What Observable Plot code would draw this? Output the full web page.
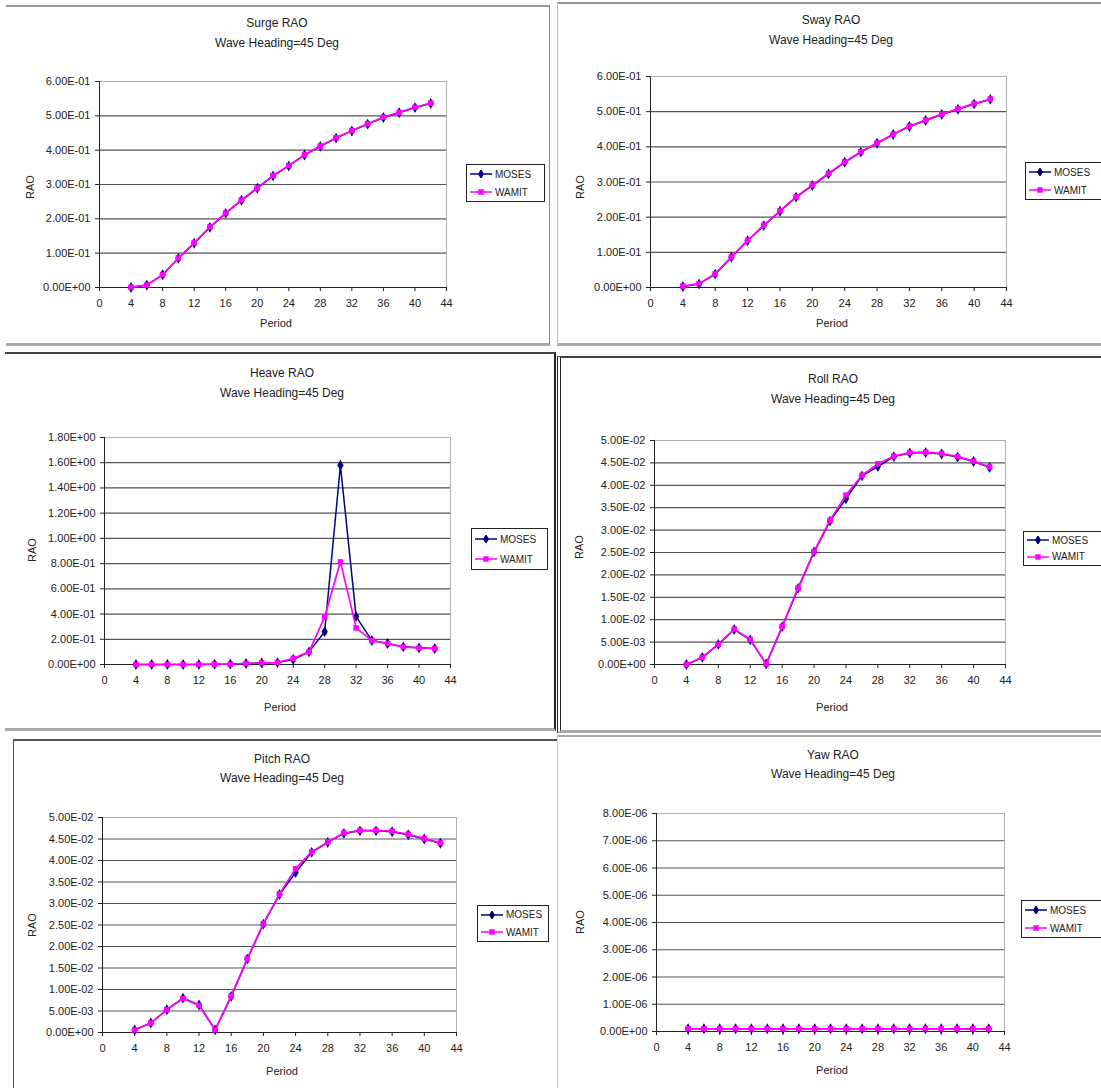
<!DOCTYPE html>
<html>
<head>
<meta charset="utf-8">
<script src="https://cdn.jsdelivr.net/npm/d3@7"></script>
<script src="https://cdn.jsdelivr.net/npm/@observablehq/plot@0.6"></script>
<style>
  html, body { margin: 0; padding: 0; background: #fff; }
  #root { position: relative; width: 1101px; height: 1088px; overflow: hidden; background: #fff;
          font-family: Arial, "Liberation Sans", sans-serif; color: #222; }
  .frame { position: absolute; box-sizing: border-box; }
  .title { position: absolute; transform: translate(-50%, -50%); font-size: 12px; white-space: nowrap; color: #222; }
  .lab { position: absolute; transform: translate(-50%, -50%); font-size: 11px; white-space: nowrap; color: #222; }
  .ylab { position: absolute; transform: translate(-50%, -50%) rotate(-90deg); font-size: 11px; white-space: nowrap; color: #222; }
  .legend { position: absolute; box-sizing: border-box; border: 1px solid #222; background: #fff; font-size: 10px; }
  .legend .row { display: flex; align-items: center; height: 50%; }
  .legend svg { display: block; margin-left: 3px; margin-right: 3px; }
</style>
</head>
<body>
<div id="root"></div>
<script>
// ---------------- data ----------------
const periods = [4, 6, 8, 10, 12, 14, 16, 18, 20, 22, 24, 26, 28, 30, 32, 34, 36, 38, 40, 42];
const xTicks = [0, 4, 8, 12, 16, 20, 24, 28, 32, 36, 40, 44];
const seriesNames = ["MOSES", "WAMIT"];

const surgeMoses = [0.000, 0.007, 0.037, 0.085, 0.129, 0.175, 0.216, 0.254, 0.289, 0.325, 0.354, 0.386, 0.411, 0.435, 0.456, 0.476, 0.495, 0.509, 0.524, 0.536];
const surgeWamit = [0.001, 0.007, 0.037, 0.086, 0.130, 0.176, 0.217, 0.255, 0.290, 0.326, 0.355, 0.387, 0.412, 0.436, 0.457, 0.477, 0.496, 0.510, 0.525, 0.537];
const surgeTicks = [0, 0.1, 0.2, 0.3, 0.4, 0.5, 0.6];

const swayMoses = [0.003, 0.010, 0.038, 0.086, 0.133, 0.176, 0.217, 0.257, 0.290, 0.323, 0.356, 0.385, 0.410, 0.435, 0.458, 0.475, 0.492, 0.507, 0.522, 0.535];
const swayWamit = [0.004, 0.011, 0.039, 0.087, 0.134, 0.177, 0.218, 0.258, 0.291, 0.324, 0.357, 0.386, 0.411, 0.436, 0.459, 0.476, 0.493, 0.508, 0.523, 0.536];
const swayTicks = [0, 0.1, 0.2, 0.3, 0.4, 0.5, 0.6];

const heaveMoses = [0, 0, 0, 0, 0, 0.002, 0.003, 0.008, 0.012, 0.015, 0.040, 0.100, 0.260, 1.580, 0.380, 0.190, 0.166, 0.140, 0.132, 0.127];
const heaveWamit = [0, 0, 0, 0, 0, 0.002, 0.003, 0.008, 0.013, 0.016, 0.048, 0.100, 0.378, 0.814, 0.290, 0.190, 0.166, 0.140, 0.132, 0.127];
const heaveTicks = [0, 0.2, 0.4, 0.6, 0.8, 1.0, 1.2, 1.4, 1.6, 1.8];

const rollMoses = [0.0000, 0.0016, 0.0045, 0.0078, 0.0055, 0.0001, 0.0084, 0.0170, 0.0251, 0.0320, 0.0370, 0.0421, 0.0442, 0.0464, 0.0472, 0.0473, 0.0470, 0.0463, 0.0453, 0.0440];
const rollWamit = [0.0000, 0.0016, 0.0045, 0.0079, 0.0056, 0.0001, 0.0085, 0.0171, 0.0252, 0.0322, 0.0378, 0.0422, 0.0448, 0.0465, 0.0473, 0.0474, 0.0471, 0.0464, 0.0454, 0.0441];
const rollTicks = [0, 0.005, 0.01, 0.015, 0.02, 0.025, 0.03, 0.035, 0.04, 0.045, 0.05];

const pitchMoses = [0.0006, 0.0022, 0.0053, 0.0080, 0.0064, 0.0006, 0.0084, 0.0171, 0.0252, 0.0321, 0.0372, 0.0419, 0.0442, 0.0463, 0.0469, 0.0469, 0.0467, 0.0460, 0.0450, 0.0440];
const pitchWamit = [0.0006, 0.0022, 0.0053, 0.0079, 0.0063, 0.0006, 0.0085, 0.0172, 0.0253, 0.0322, 0.0381, 0.0420, 0.0443, 0.0464, 0.0470, 0.0470, 0.0468, 0.0461, 0.0451, 0.0441];
const pitchTicks = [0, 0.005, 0.01, 0.015, 0.02, 0.025, 0.03, 0.035, 0.04, 0.045, 0.05];

const yawMoses = [1e-7, 1e-7, 1e-7, 1e-7, 1e-7, 1e-7, 1e-7, 1e-7, 1e-7, 1e-7, 1e-7, 1e-7, 1e-7, 1e-7, 1e-7, 1e-7, 1e-7, 1e-7, 1e-7, 1e-7];
const yawWamit = [1e-7, 1e-7, 1e-7, 1e-7, 1e-7, 1e-7, 1e-7, 1e-7, 1e-7, 1e-7, 1e-7, 1e-7, 1e-7, 1e-7, 1e-7, 1e-7, 1e-7, 1e-7, 1e-7, 1e-7];
const yawTicks = [0, 1e-6, 2e-6, 3e-6, 4e-6, 5e-6, 6e-6, 7e-6, 8e-6];

const titles = ["Surge RAO", "Sway RAO", "Heave RAO", "Roll RAO", "Pitch RAO", "Yaw RAO"];
const subtitle = "Wave Heading=45 Deg";

// ---------------- layout ----------------
const COL_MOSES = "#000080";
const COL_WAMIT = "#FF00FF";

function fmtE(v) {
  const s = (+v).toExponential(2);
  const m = s.match(/^(-?[\d.]+)e([+-])(\d+)$/);
  return m[1] + "E" + m[2] + m[3].padStart(2, "0");
}

const panels = [
  { title: titles[0], moses: surgeMoses, wamit: surgeWamit, ticks: surgeTicks,
    frame: {x: 6, y: 5, w: 544, h: 341, css: "border-top:2px solid #999;border-right:1px solid #888;border-bottom:3px solid #aaa;"},
    plot: {L: 99, R: 446, T: 81, B: 287}, tc: [277, 23, 43], ylab: [30, 187], xlab: [276, 323],
    legend: {x: 466, y: 164, w: 79, h: 38} },
  { title: titles[1], moses: swayMoses, wamit: swayWamit, ticks: swayTicks,
    frame: {x: 557, y: 2, w: 560, h: 344, css: "border-top:2px solid #999;border-left:1px solid #bbb;border-bottom:3px solid #aaa;"},
    plot: {L: 650, R: 1006, T: 76, B: 287}, tc: [831, 20, 40], ylab: [580, 187], xlab: [832, 323],
    legend: {x: 1025, y: 162, w: 82, h: 38} },
  { title: titles[2], moses: heaveMoses, wamit: heaveWamit, ticks: heaveTicks,
    frame: {x: 5, y: 352, w: 551, h: 379, css: "border-top:2px solid #444;border-right:2px solid #222;border-bottom:3px solid #aaa;"},
    plot: {L: 104, R: 450, T: 437, B: 664}, tc: [282, 373, 393], ylab: [32, 550], xlab: [280, 707],
    legend: {x: 471, y: 528, w: 77, h: 42} },
  { title: titles[3], moses: rollMoses, wamit: rollWamit, ticks: rollTicks,
    frame: {x: 557, y: 356, w: 560, h: 377, css: "border-top:2px solid #444;border-left:4px double #222;border-bottom:3px solid #aaa;"},
    plot: {L: 654, R: 1005, T: 440, B: 664}, tc: [833, 379, 399], ylab: [579, 547], xlab: [832, 707],
    legend: {x: 1023, y: 531, w: 82, h: 35} },
  { title: titles[4], moses: pitchMoses, wamit: pitchWamit, ticks: pitchTicks,
    frame: {x: 13, y: 739, w: 545, h: 360, css: "border-top:2px solid #555;border-left:1px solid #555;"},
    plot: {L: 102, R: 456, T: 817, B: 1032}, tc: [282, 759, 778], ylab: [32, 925], xlab: [282, 1071],
    legend: {x: 477, y: 905, w: 72, h: 37} },
  { title: titles[5], moses: yawMoses, wamit: yawWamit, ticks: yawTicks,
    frame: {x: 557, y: 735, w: 560, h: 360, css: "border-top:2px solid #aaa;border-left:1px solid #ccc;"},
    plot: {L: 656, R: 1004, T: 813, B: 1031}, tc: [833, 755, 774], ylab: [580, 922], xlab: [832, 1070],
    legend: {x: 1021, y: 900, w: 84, h: 38} }
];

const root = document.getElementById("root");

function addDiv(cls, css, text) {
  const d = document.createElement("div");
  d.className = cls;
  d.style.cssText = css;
  if (text != null) d.textContent = text;
  root.appendChild(d);
  return d;
}

function legendSwatch(color, symbol) {
  const svg = d3.create("svg").attr("width", 22).attr("height", 8);
  svg.append("line").attr("x1", 0).attr("x2", 22).attr("y1", 4).attr("y2", 4)
    .attr("stroke", color).attr("stroke-width", 1.5);
  svg.append("path").attr("transform", "translate(11,4)")
    .attr("d", d3.symbol(symbol === "diamond" ? d3.symbolDiamond : d3.symbolSquare, 30)())
    .attr("fill", color);
  return svg.node();
}

panels.forEach(p => {
  const f = p.frame;
  addDiv("frame", `left:${f.x}px;top:${f.y}px;width:${f.w}px;height:${f.h}px;${f.css}`);

  const mosesData = periods.map((x, i) => ({x, y: p.moses[i], s: seriesNames[0]}));
  const wamitData = periods.map((x, i) => ({x, y: p.wamit[i], s: seriesNames[1]}));

  const sx = p.plot.L - 100, sy = p.plot.T - 20;
  const W = (p.plot.R - p.plot.L) + 120, H = (p.plot.B - p.plot.T) + 50;
  const ymax = p.ticks[p.ticks.length - 1];

  const chart = Plot.plot({
    width: W, height: H,
    marginLeft: 100, marginRight: 20, marginTop: 20, marginBottom: 30,
    style: {fontFamily: "Arial, 'Liberation Sans', sans-serif", fontSize: "11px", color: "#222", background: "transparent", overflow: "visible"},
    x: {domain: [0, 44], label: null},
    y: {domain: [0, ymax], label: null},
    marks: [
      Plot.gridY(p.ticks, {stroke: "#555", strokeOpacity: 1, strokeWidth: 1.2}),
      Plot.frame({stroke: "#b0b0b0"}),
      Plot.axisY(p.ticks, {tickSize: 4, tickPadding: 5, tickFormat: fmtE, label: null}),
      Plot.axisX(xTicks, {tickSize: 4, tickPadding: 8, tickFormat: d => String(d), label: null}),
      Plot.ruleX([0], {stroke: "#222"}),
      Plot.ruleY([0], {stroke: "#222"}),
      Plot.line(mosesData, {x: "x", y: "y", stroke: COL_MOSES, strokeWidth: 1.5}),
      Plot.dot(mosesData, {x: "x", y: "y", symbol: "diamond", fill: COL_MOSES, r: 3.3}),
      Plot.line(wamitData, {x: "x", y: "y", stroke: COL_WAMIT, strokeWidth: 1.7}),
      Plot.dot(wamitData, {x: "x", y: "y", symbol: "square", fill: COL_WAMIT, r: 3.1})
    ]
  });
  chart.style.position = "absolute";
  chart.style.left = sx + "px";
  chart.style.top = sy + "px";
  root.appendChild(chart);

  addDiv("title", `left:${p.tc[0]}px;top:${p.tc[1]}px;`, p.title);
  addDiv("title", `left:${p.tc[0]}px;top:${p.tc[2]}px;`, subtitle);
  addDiv("ylab", `left:${p.ylab[0]}px;top:${p.ylab[1]}px;`, "RAO");
  addDiv("lab", `left:${p.xlab[0]}px;top:${p.xlab[1]}px;`, "Period");

  const lg = p.legend;
  const box = addDiv("legend", `left:${lg.x}px;top:${lg.y}px;width:${lg.w}px;height:${lg.h}px;`);
  [[seriesNames[0], COL_MOSES, "diamond"], [seriesNames[1], COL_WAMIT, "square"]].forEach(([name, col, sym]) => {
    const row = document.createElement("div");
    row.className = "row";
    row.appendChild(legendSwatch(col, sym));
    const t = document.createElement("span");
    t.textContent = name;
    row.appendChild(t);
    box.appendChild(row);
  });
});
</script>
</body>
</html>
